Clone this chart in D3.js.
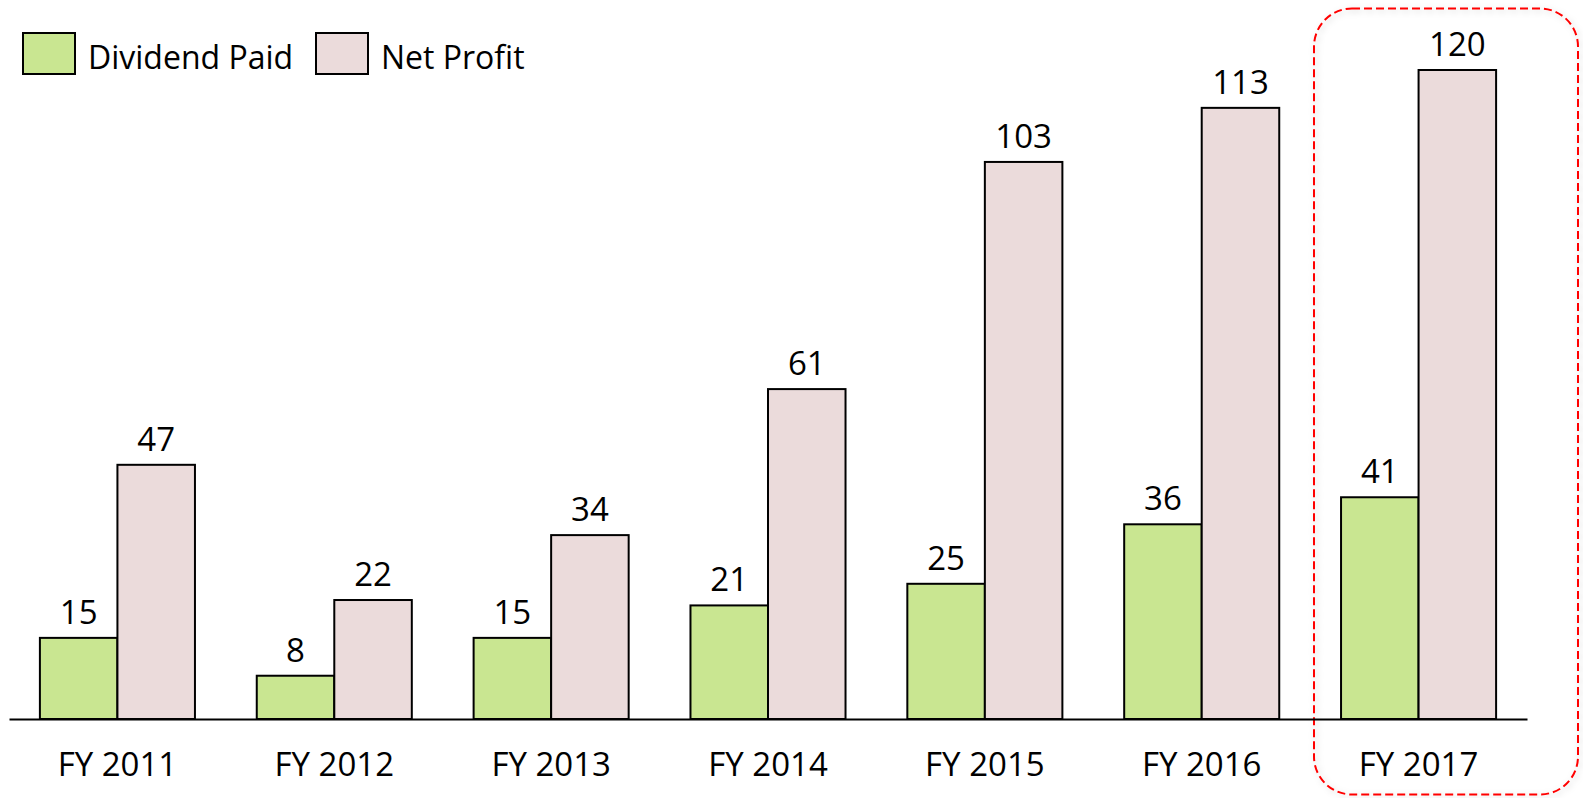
<!DOCTYPE html>
<html>
<head>
<meta charset="utf-8">
<script src="https://cdn.jsdelivr.net/npm/d3@7"></script>
<style>
  body { margin: 0; background: #fff; }
  svg { display: block; font-family: "Open Sans", sans-serif; }
</style>
</head>
<body>
<script>
// chart data
var years = ["FY 2011", "FY 2012", "FY 2013", "FY 2014", "FY 2015", "FY 2016", "FY 2017"];
var dividendPaid = [15, 8, 15, 21, 25, 36, 41];
var netProfit = [47, 22, 34, 61, 103, 113, 120];
var seriesNames = ["Dividend Paid", "Net Profit"];
var colors = ["#c9e691", "#ebdbdb"];

var width = 1583, height = 798;
var baseY = 719;

var svg = d3.select("body").append("svg")
  .attr("width", width).attr("height", height);

var x = d3.scaleBand().domain(years).range([9, 1527])
  .paddingInner(0.285).paddingOuter(0.1425);
var xs = d3.scaleBand().domain(seriesNames).range([0, x.bandwidth()]);
var y = d3.scaleLinear().domain([0, 120]).range([baseY, 70]);

// highlight box round the last year
var defs = svg.append("defs");
var f = defs.append("filter").attr("id", "shadow")
  .attr("x", "-10%").attr("y", "-10%").attr("width", "120%").attr("height", "120%");
f.append("feDropShadow").attr("dx", 2).attr("dy", 2).attr("stdDeviation", 3)
  .attr("flood-color", "#000").attr("flood-opacity", 0.18);

svg.append("rect")
  .attr("x", 1314).attr("y", 8.5)
  .attr("width", 264).attr("height", 786)
  .attr("rx", 38).attr("ry", 38)
  .attr("fill", "none")
  .attr("stroke", "#ff0000")
  .attr("stroke-width", 2)
  .attr("stroke-dasharray", "8,4")
  .attr("filter", "url(#shadow)");

var rows = years.map(function (yr, i) {
  return { year: yr, values: [dividendPaid[i], netProfit[i]] };
});

var groups = svg.selectAll("g.year").data(rows).enter().append("g")
  .attr("class", "year")
  .attr("transform", function (d) { return "translate(" + x(d.year) + ",0)"; });

groups.selectAll("rect").data(function (d) {
  return d.values.map(function (v, j) { return { name: seriesNames[j], value: v, idx: j }; });
}).enter().append("rect")
  .attr("x", function (d) { return xs(d.name); })
  .attr("y", function (d) { return y(d.value); })
  .attr("width", xs.bandwidth())
  .attr("height", function (d) { return baseY - y(d.value); })
  .attr("fill", function (d) { return colors[d.idx]; })
  .attr("stroke", "#000")
  .attr("stroke-width", 2);

groups.selectAll("text.val").data(function (d) {
  return d.values.map(function (v, j) { return { name: seriesNames[j], value: v }; });
}).enter().append("text")
  .attr("class", "val")
  .attr("x", function (d) { return xs(d.name) + xs.bandwidth() / 2; })
  .attr("y", function (d) { return y(d.value) - 14; })
  .attr("text-anchor", "middle")
  .attr("font-size", 33)
  .attr("fill", "#000")
  .text(function (d) { return d.value; });

// x axis
var axis = svg.append("g")
  .attr("transform", "translate(0," + baseY + ")")
  .call(d3.axisBottom(x).tickSize(0).tickSizeOuter(0));
axis.select(".domain").attr("stroke", "#000").attr("stroke-width", 2);
axis.selectAll("text")
  .attr("y", 57).attr("dy", 0)
  .attr("font-size", 33)
  .attr("font-family", "Open Sans, sans-serif")
  .attr("fill", "#000");

// legend
var legend = svg.append("g");
var legX = [23, 316];
seriesNames.forEach(function (name, i) {
  legend.append("rect")
    .attr("x", legX[i]).attr("y", 33)
    .attr("width", 52).attr("height", 41)
    .attr("fill", colors[i]).attr("stroke", "#000").attr("stroke-width", 2);
  legend.append("text")
    .attr("x", legX[i] + 65).attr("y", 69)
    .attr("font-size", 32)
    .attr("fill", "#000")
    .text(name);
});
</script>
</body>
</html>
